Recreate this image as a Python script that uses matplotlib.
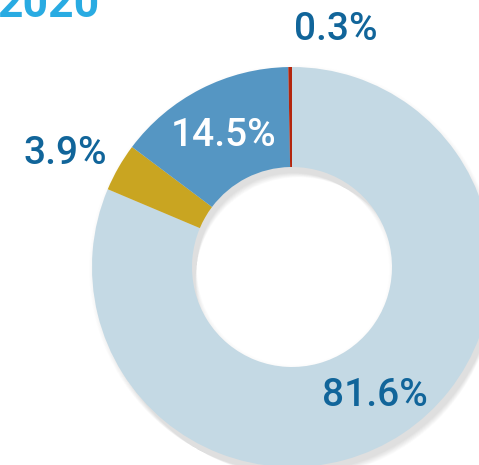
import numpy as np
import matplotlib
matplotlib.use("Agg")
import matplotlib.pyplot as plt
from matplotlib.patches import Wedge

# data (clockwise from 12 o'clock)
labels = ['81.6%', '3.9%', '14.5%', '0.3%']
shares = [81.6, 3.9, 14.5, 0.3]
colors = ['#c4d9e4', '#c9a521', '#5596c3', '#b3260e']
title = '2020'

plt.rcParams['font.family'] = ['Roboto', 'DejaVu Sans']

W, H = 479, 465
fig = plt.figure(figsize=(W / 100, H / 100), dpi=100)
ax = fig.add_axes([0, 0, 1, 1])
ax.set_xlim(0, W)
ax.set_ylim(0, H)
ax.set_aspect('equal')
ax.axis('off')

cx, cy = 292, H - 267
r_out, r_in = 200, 100

# soft drop shadow behind the ring
for k in range(16):
    off = 2 + k * 0.8
    ax.add_patch(Wedge((cx + off * 0.5, cy - off), r_out + 4 - k * 0.5,
                       0, 360, width=r_out - r_in + 8 - k * 1.0,
                       facecolor='#000000', alpha=0.008, lw=0, zorder=1))

ax.pie(shares, colors=colors, startangle=90, counterclock=False,
       radius=r_out, center=(cx, cy),
       wedgeprops=dict(width=r_out - r_in, linewidth=0, zorder=2))
ax.set_xlim(0, W)
ax.set_ylim(0, H)

txt = '#11659a'
kw = dict(fontsize=28, fontweight='medium', ha='center', va='center')
ax.text(375, H - 395, labels[0], color=txt, **kw)
ax.text(65, H - 154, labels[1], color=txt, **kw)
ax.text(224, H - 135, labels[2], color='white', **kw)
ax.text(336, H - 30, labels[3], color=txt, **kw)

ax.text(-3, H - 17, title, color='#29abe2', fontsize=32, fontweight='bold',
        ha='left', va='baseline')

fig.savefig('out.png', dpi=100)
